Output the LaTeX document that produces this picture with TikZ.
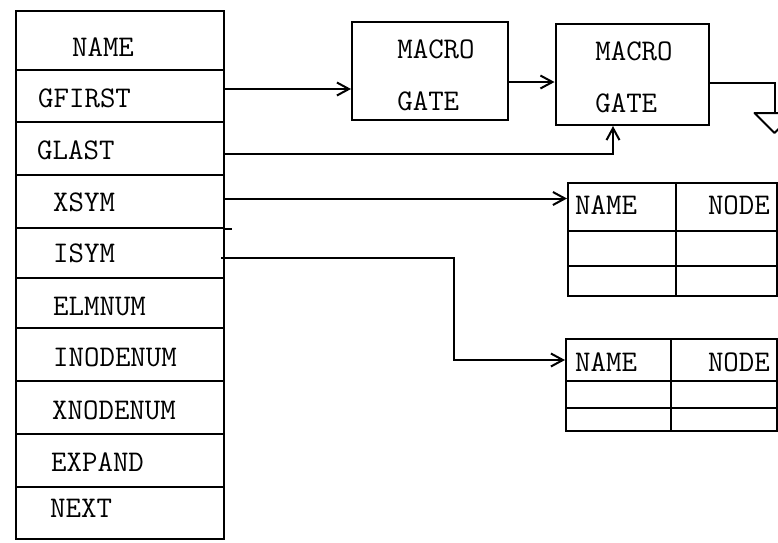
\documentclass[tikz,border=0pt]{standalone}
\usetikzlibrary{arrows.meta}
\begin{document}
\begin{tikzpicture}[x=1pt,y=-1pt,
  ln/.style={line width=2pt},
  row/.style={draw,ln,minimum width=208pt,inner sep=0pt,anchor=north west},
  cell/.style={draw,ln,inner sep=0pt,anchor=north west},
  lbl/.style={inner sep=0pt,text height=18pt,text depth=0pt,font=\fontsize{30}{30}\selectfont\ttfamily},
  gbox/.style={draw,ln,inner sep=0pt},
  gtext/.style={inner sep=0pt,align=left,font=\fontsize{30}{52}\selectfont\ttfamily},
  arr/.style={ln,-{Straight Barb[length=12pt,width=13pt,line width=2pt]}}]
\useasboundingbox (0,0) rectangle (778,542);
\clip (0,0) rectangle (778,542);
% left record
\node[row,minimum height=59pt] (name) at (15,10) {};
\node[row,minimum height=52pt] (gfirst) at (15,69) {};
\node[row,minimum height=53pt] (glast) at (15,121) {};
\node[row,minimum height=53pt] (xsym) at (15,174) {};
\node[row,minimum height=50pt] (isym) at (15,227) {};
\node[row,minimum height=50pt] (elmnum) at (15,277) {};
\node[row,minimum height=53pt] (inodenum) at (15,327) {};
\node[row,minimum height=53pt] (xnodenum) at (15,380) {};
\node[row,minimum height=53pt] (expand) at (15,433) {};
\node[row,minimum height=52pt] (next) at (15,486) {};
\node[lbl] (tname) at (103,47) {NAME};
\node[lbl,anchor=west] (tgfirst) at (38,98) {GFIRST};
\node[lbl,anchor=west] (tglast) at (37,150) {GLAST};
\node[lbl,anchor=west] (txsym) at (53,202) {XSYM};
\node[lbl,anchor=west] (tisym) at (53,253) {ISYM};
\node[lbl,anchor=west] (telmnum) at (53,306) {ELMNUM};
\node[lbl,anchor=west] (tinodenum) at (53,357) {INODENUM};
\node[lbl,anchor=west] (txnodenum) at (52,410) {XNODENUM};
\node[lbl,anchor=west] (texpand) at (51,462) {EXPAND};
\node[lbl,anchor=west] (tnext) at (50,508) {NEXT};
\draw[ln] (xsym.south east) -- ++(7,0);
% macro gates
\node[gbox,minimum width=156pt,minimum height=98pt] (box1) at (430,71) {};
\node[gbox,minimum width=153pt,minimum height=101pt] (box2) at (632,74.5) {};
\node[gtext] (m1) at ([xshift=6pt,yshift=-4pt]box1.center) {MACRO\\GATE};
\node[gtext] (m2) at ([xshift=2pt,yshift=-3pt]box2.center) {MACRO\\GATE};
% tables
\node[cell,minimum width=108pt,minimum height=48pt] (name1) at (567,182) {};
\node[cell,minimum width=101pt,minimum height=48pt] (node1) at (675,182) {};
\node[cell,minimum width=108pt,minimum height=35pt] (a1) at (567,230) {};
\node[cell,minimum width=101pt,minimum height=35pt] (b1) at (675,230) {};
\node[cell,minimum width=108pt,minimum height=30pt] (c1) at (567,265) {};
\node[cell,minimum width=101pt,minimum height=30pt] (d1) at (675,265) {};
\node[lbl,anchor=west] (tn1) at (575,205) {NAME};
\node[lbl,anchor=east] (td1) at (770,205) {NODE};
\node[cell,minimum width=105pt,minimum height=42pt] (name2) at (565,338) {};
\node[cell,minimum width=106pt,minimum height=42pt] (node2) at (670,338) {};
\node[cell,minimum width=105pt,minimum height=27pt] (a2) at (565,380) {};
\node[cell,minimum width=106pt,minimum height=27pt] (b2) at (670,380) {};
\node[cell,minimum width=105pt,minimum height=23pt] (c2) at (565,407) {};
\node[cell,minimum width=106pt,minimum height=23pt] (d2) at (670,407) {};
\node[lbl,anchor=west] (tn2) at (575,362) {NAME};
\node[lbl,anchor=east] (td2) at (770,362) {NODE};
% connectors
\draw[arr] ([yshift=7pt]gfirst.east) coordinate (g1) -- (g1 -| box1.west);
\draw[arr] ([yshift=-11pt]box1.east) coordinate (g2) -- (g2 -| box2.west);
\draw[arr] ([yshift=-5pt]glast.east) -| ([xshift=-19pt]box2.south);
\draw[arr] ([yshift=3pt]xsym.east) coordinate (x1) -- (x1 -| name1.west);
\draw[arr] ([yshift=-5pt,xshift=-4pt]isym.east) -- ++(233,0) |- (name2.west);
% ground
\draw[ln] ([yshift=-8.5pt]box2.east) -- ++(65,0) coordinate (gr) -- ++(0,30) coordinate (gt);
\draw[ln,line join=round] ([xshift=-20pt]gt) -- ([xshift=20pt]gt) -- ([yshift=-20pt]gt) -- cycle;
\end{tikzpicture}
\end{document}
